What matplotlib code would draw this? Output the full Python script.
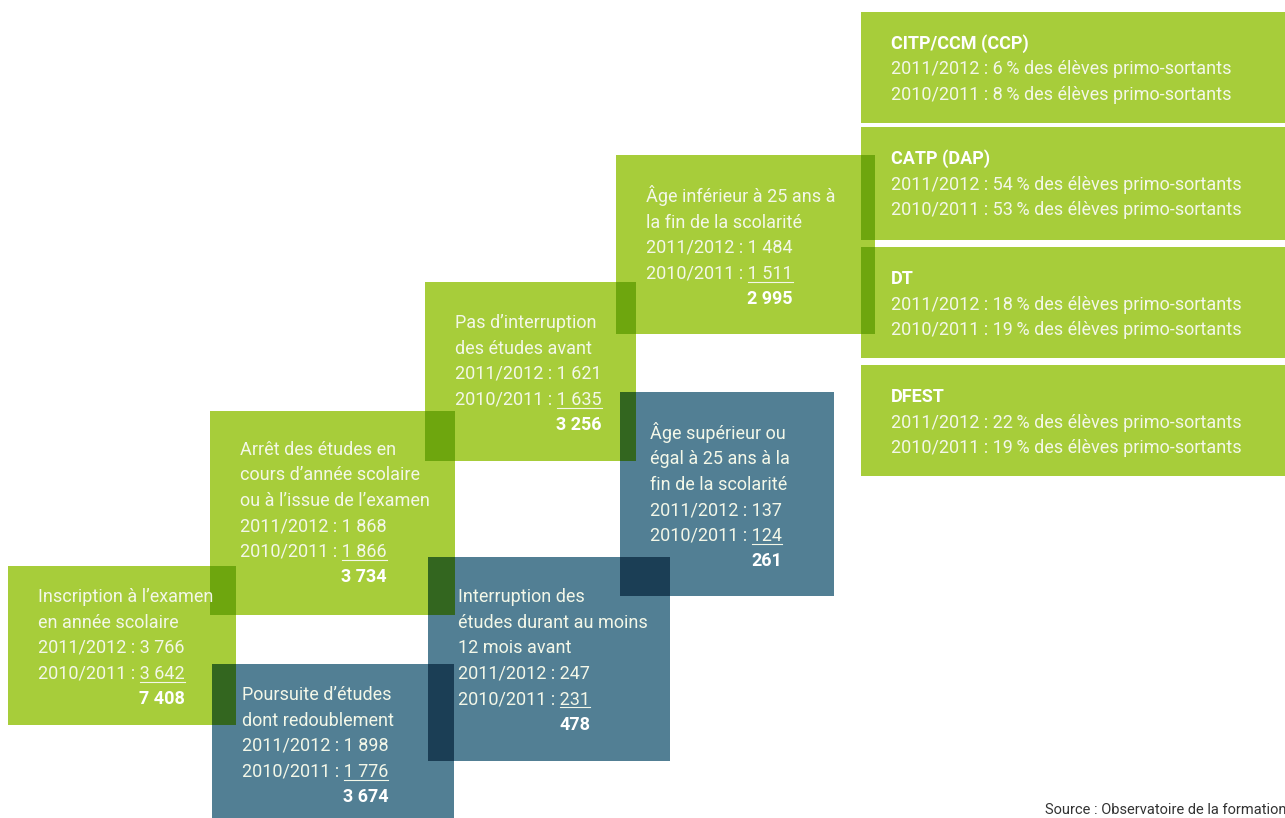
import matplotlib
matplotlib.use('Agg')
import matplotlib.pyplot as plt
from matplotlib.patches import Rectangle

plt.rcParams['font.family'] = ['Roboto', 'DejaVu Sans']

# flow boxes
box_titles = [
    "Inscription à l’examen\nen année scolaire",
    "Arrêt des études en\ncours d’année scolaire\nou à l’issue de l’examen",
    "Pas d’interruption\ndes études avant",
    "Âge inférieur à 25 ans à\nla fin de la scolarité",
    "Poursuite d’études\ndont redoublement",
    "Interruption des\nétudes durant au moins\n12 mois avant",
    "Âge supérieur ou\négal à 25 ans à la\nfin de la scolarité",
]
vals_2012 = [3766, 1868, 1621, 1484, 1898, 247, 137]
vals_2011 = [3642, 1866, 1635, 1511, 1776, 231, 124]
box_kind = ['g', 'g', 'g', 'g', 'b', 'b', 'b']

# diploma boxes
diplomas = ["CITP/CCM (CCP)", "CATP (DAP)", "DT", "DFEST"]
pct_2012 = [6, 54, 18, 22]
pct_2011 = [8, 53, 19, 19]

source = "Source : Observatoire de la formation"

# layout in pixels (x0, y0, x1, y1), y downwards
box_rects = [(8, 566, 236, 725), (210, 411, 455, 615), (425, 282, 636, 461),
             (616, 155, 875, 334), (212, 664, 454, 820), (428, 557, 670, 761),
             (620, 392, 834, 596)]
box_text_off = [36, 44, 46, 47, 36, 45, 47]
dip_rects = [(861, 12, 1290, 123), (861, 127, 1290, 240),
             (861, 247, 1290, 358), (861, 365, 1290, 476)]

GREEN = '#a7cd3a'
BLUE = '#527f94'
OVER = {'gg': '#6ea60e', 'gb': '#33661f', 'bg': '#33661f', 'bb': '#1b3e55'}
TXT = '#f3f7e8'
LH = 25.5
FS = 13.0

W, H = 1285, 818
fig = plt.figure(figsize=(W / 100, H / 100), dpi=100)
ax = fig.add_axes([0, 0, 1, 1])
ax.set_xlim(0, W)
ax.set_ylim(H, 0)
ax.axis('off')

rects = box_rects + dip_rects
kinds = box_kind + ['g'] * len(dip_rects)
for (x0, y0, x1, y1), k in zip(rects, kinds):
    ax.add_patch(Rectangle((x0, y0), x1 - x0, y1 - y0, color=GREEN if k == 'g' else BLUE, lw=0))

# darker overlaps
for i in range(len(rects)):
    for j in range(i + 1, len(rects)):
        a, b = rects[i], rects[j]
        x0, y0 = max(a[0], b[0]), max(a[1], b[1])
        x1, y1 = min(a[2], b[2]), min(a[3], b[3])
        if x1 > x0 and y1 > y0:
            ax.add_patch(Rectangle((x0, y0), x1 - x0, y1 - y0,
                                   color=OVER[kinds[i] + kinds[j]], lw=0))

fig.canvas.draw()
r = fig.canvas.get_renderer()

def fmt(v):
    return f"{v:,}".replace(",", " ")

for k, (x0, y0, x1, y1) in enumerate(box_rects):
    tx = x0 + 30
    y = y0 + box_text_off[k]
    lines = box_titles[k].split('\n') + [f"2011/2012 : {fmt(vals_2012[k])}"]
    for ln in lines:
        ax.text(tx, y, ln, fontsize=FS, color=TXT, va='baseline')
        y += LH
    full = ax.text(tx, y, f"2010/2011 : {fmt(vals_2011[k])}", fontsize=FS, color=TXT,
                   va='baseline')
    tmp = ax.text(0, 0, fmt(vals_2011[k]), fontsize=FS)
    fe = full.get_window_extent(r)
    ve = tmp.get_window_extent(r)
    tmp.remove()
    end = tx + fe.width
    ax.plot([end - ve.width, end], [y + 3, y + 3], color=TXT, lw=0.8)
    ax.text(end, y + LH, fmt(vals_2012[k] + vals_2011[k]), fontsize=FS, color='white',
            fontweight='bold', va='baseline', ha='right')

for k, (x0, y0, x1, y1) in enumerate(dip_rects):
    tx = x0 + 30
    y = y0 + 37
    ax.text(tx, y, diplomas[k], fontsize=FS, color='white', fontweight='bold', va='baseline')
    ax.text(tx, y + LH, f"2011/2012 : {pct_2012[k]}\u2009% des élèves primo-sortants",
            fontsize=FS, color=TXT, va='baseline')
    ax.text(tx, y + 2 * LH, f"2010/2011 : {pct_2011[k]}\u2009% des élèves primo-sortants",
            fontsize=FS, color=TXT, va='baseline')

ax.text(1045, 814, source, fontsize=10.5, color='#333333', va='baseline')

fig.savefig('out.png', dpi=100)
